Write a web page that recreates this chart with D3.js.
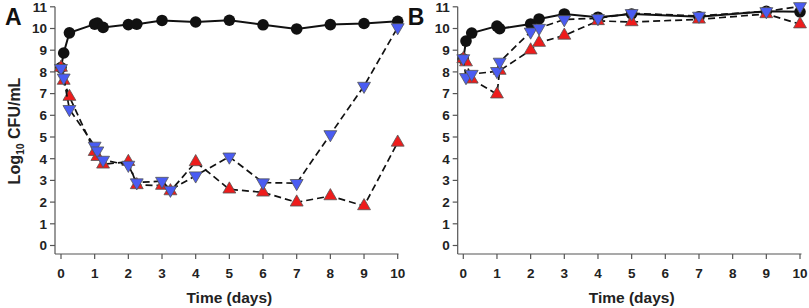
<!DOCTYPE html>
<html>
<head>
<meta charset="utf-8">
<script src="https://cdn.jsdelivr.net/npm/d3@7"></script>
<style>
  body { margin: 0; background: #fff; }
  text { font-family: "Liberation Sans", Arial, sans-serif; font-weight: bold; fill: #222; }
</style>
</head>
<body>
<script>
// panel A
var timeA_black = [0, 0.08, 0.25, 1, 1.08, 1.25, 2, 2.25, 3, 4, 5, 6, 7, 8, 9, 10];
var valA_black = [8.2, 8.87, 9.8, 10.2, 10.25, 10.05, 10.18, 10.2, 10.37, 10.3, 10.38, 10.17, 9.98, 10.18, 10.23, 10.33];
var timeA_red = [0, 0.08, 0.25, 1, 1.08, 1.25, 2, 2.25, 3, 3.25, 4, 5, 6, 7, 8, 9, 10];
var valA_red = [8.2, 7.6, 6.86, 4.32, 4.09, 3.74, 3.86, 2.79, 2.76, 2.51, 3.85, 2.59, 2.45, 1.99, 2.28, 1.82, 4.75];
var timeA_blue = [0, 0.08, 0.25, 1, 1.08, 1.25, 2, 2.25, 3, 3.25, 4, 5, 6, 7, 8, 9, 10];
var valA_blue = [8.17, 7.73, 6.28, 4.59, 4.37, 3.94, 3.71, 2.9, 2.97, 2.56, 3.22, 4.09, 2.9, 2.87, 5.12, 7.35, 10.05];

// panel B
var timeB_black = [0, 0.08, 0.25, 1, 1.08, 2, 2.25, 3, 4, 5, 7, 9, 10];
var valB_black = [8.6, 9.42, 9.79, 10.11, 9.99, 10.21, 10.44, 10.67, 10.52, 10.67, 10.54, 10.79, 10.77];
var timeB_red = [0, 0.08, 0.25, 1, 1.08, 2, 2.25, 3, 4, 5, 7, 9, 10];
var valB_red = [8.6, 8.45, 7.66, 6.97, 8.06, 9.0, 9.35, 9.68, 10.35, 10.3, 10.42, 10.67, 10.2];
var timeB_blue = [0, 0.08, 0.25, 1, 1.08, 2, 2.25, 3, 4, 5, 7, 9, 10];
var valB_blue = [8.62, 7.75, 7.9, 8.03, 8.46, 9.85, 10.02, 10.42, 10.47, 10.7, 10.58, 10.79, 11.02];

var xTicks = [0, 1, 2, 3, 4, 5, 6, 7, 8, 9, 10];
var yTicks = [0, 1, 2, 3, 4, 5, 6, 7, 8, 9, 10, 11];

var W = 809, H = 308;
var svg = d3.select("body").append("svg")
  .attr("width", W)
  .attr("height", H);

var y = d3.scaleLinear().domain([0, 11]).range([245.5, 6.8]);
var axisY = 254;

function zip(t, v) {
  return t.map(function (d, i) { return [d, v[i]]; });
}

function panel(letter, axisX, x0, x1, xEnd, series) {
  var x = d3.scaleLinear().domain([0, 10]).range([x0, x1]);
  var g = svg.append("g");

  // y axis
  g.append("line")
    .attr("x1", axisX).attr("x2", axisX)
    .attr("y1", y(11)).attr("y2", axisY)
    .attr("stroke", "#555").attr("stroke-width", 1.2);
  g.selectAll(".ytick").data(yTicks).enter().append("line")
    .attr("x1", axisX - 5).attr("x2", axisX)
    .attr("y1", function (d) { return y(d); })
    .attr("y2", function (d) { return y(d); })
    .attr("stroke", "#555").attr("stroke-width", 1.2);
  g.selectAll(".ylab").data(yTicks).enter().append("text")
    .attr("x", axisX - 8)
    .attr("y", function (d) { return y(d); })
    .attr("dy", "0.36em")
    .attr("text-anchor", "end")
    .style("font-size", "13.5px")
    .text(function (d) { return d; });

  // x axis
  g.append("line")
    .attr("x1", axisX).attr("x2", xEnd)
    .attr("y1", axisY).attr("y2", axisY)
    .attr("stroke", "#555").attr("stroke-width", 1.2);
  g.selectAll(".xtick").data(xTicks).enter().append("line")
    .attr("x1", function (d) { return x(d); })
    .attr("x2", function (d) { return x(d); })
    .attr("y1", axisY).attr("y2", axisY + 5)
    .attr("stroke", "#555").attr("stroke-width", 1.2);
  g.selectAll(".xlab").data(xTicks).enter().append("text")
    .attr("x", function (d) { return x(d); })
    .attr("y", 273)
    .attr("dy", "0.36em")
    .attr("text-anchor", "middle")
    .style("font-size", "13.5px")
    .text(function (d) { return d; });

  g.append("text")
    .attr("x", (x0 + x1) / 2)
    .attr("y", 297)
    .attr("dy", "0.36em")
    .attr("text-anchor", "middle")
    .style("font-size", "15.5px")
    .text("Time (days)");

  g.append("text")
    .attr("x", axisX - 50)
    .attr("y", 25)
    .style("font-size", "23px")
    .style("fill", "#111")
    .text(letter);

  var line = d3.line()
    .x(function (d) { return x(d[0]); })
    .y(function (d) { return y(d[1]); });

  series.forEach(function (s) {
    g.append("path")
      .datum(s.data)
      .attr("fill", "none")
      .attr("stroke", "#111")
      .attr("stroke-width", s.dash ? 1.7 : 2)
      .attr("stroke-dasharray", s.dash ? "7,4" : null)
      .attr("d", line);

    if (s.shape === "circle") {
      g.selectAll(null).data(s.data).enter().append("circle")
        .attr("cx", function (d) { return x(d[0]); })
        .attr("cy", function (d) { return y(d[1]); })
        .attr("r", 5.8)
        .attr("fill", "#111");
    } else {
      var sym = d3.symbol().type(d3.symbolTriangle).size(72);
      g.selectAll(null).data(s.data).enter().append("path")
        .attr("d", sym)
        .attr("transform", function (d) {
          return "translate(" + x(d[0]) + "," + y(d[1]) + ")" + (s.shape === "down" ? " rotate(180)" : "");
        })
        .attr("fill", s.color)
        .attr("stroke", "#555")
        .attr("stroke-width", 0.8);
    }
  });
}

panel("A", 55, 61, 397.7, 398.5, [
  { data: zip(timeA_black, valA_black), shape: "circle", dash: false },
  { data: zip(timeA_red, valA_red), shape: "up", color: "#ee1c1c", dash: true },
  { data: zip(timeA_blue, valA_blue), shape: "down", color: "#4a5cf2", dash: true }
]);

panel("B", 457.7, 463.3, 800, 801.5, [
  { data: zip(timeB_black, valB_black), shape: "circle", dash: false },
  { data: zip(timeB_red, valB_red), shape: "up", color: "#ee1c1c", dash: true },
  { data: zip(timeB_blue, valB_blue), shape: "down", color: "#4a5cf2", dash: true }
]);

// y title
var yt = svg.append("text")
  .attr("transform", "translate(20,131) rotate(-90)")
  .attr("text-anchor", "middle")
  .style("font-size", "16px");
yt.append("tspan").text("Log");
yt.append("tspan").attr("dy", 4).style("font-size", "10.5px").text("10");
yt.append("tspan").attr("dy", -4).text(" CFU/mL");
</script>
</body>
</html>
